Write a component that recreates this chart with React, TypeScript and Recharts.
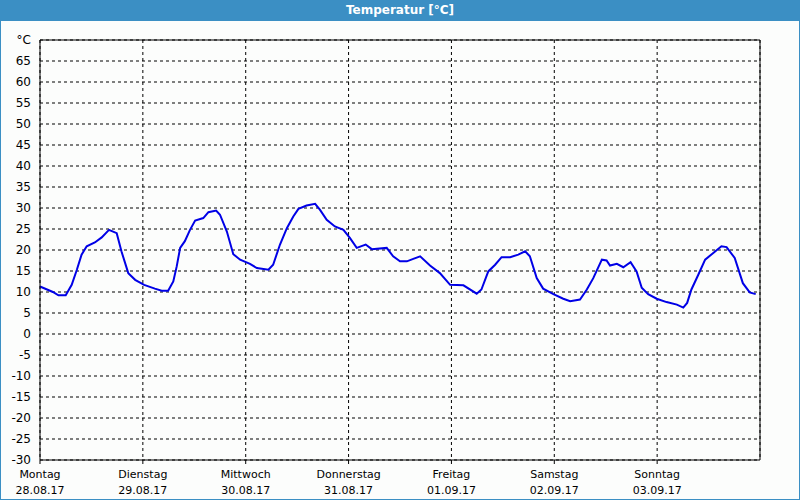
import { LineChart, Line, XAxis, YAxis, CartesianGrid, ReferenceLine } from 'recharts';

// hours since Monday 00:00
const hours = [
  0, 3, 4.3, 6, 7.4, 8.6, 9.7, 10.9, 12.8, 14.4, 16.1, 17.9, 19, 20.6, 22.2,
  24.3, 26.8, 28.4, 29.9, 31.1, 31.9, 32.7, 33.8, 35, 36.2, 38.1, 39.3, 41.1,
  42, 43.6, 45.1, 46.7, 49, 50.6, 53.3, 54.4, 56, 57.6, 59.1, 60.3, 62.2, 64.2,
  65.3, 66.9, 68.8, 70.8, 72.3, 73.9, 76, 77.4, 80.9, 82.4,
  84, 85.6, 87.1, 88.7, 91, 93.3, 95.7, 98.8, 101.9, 103, 104.6, 106.2, 107.7,
  109.7, 111.6, 113.2, 114.3, 115.9, 117.4, 119.8, 122.1, 123.7,
  126, 127.6, 129.1, 131.1, 132.2, 133, 134.6, 136.1, 137.8, 139.2, 140.4,
  141.9, 143.9, 146.2, 148.6, 150.1, 151, 152, 153.6, 155.2, 157.1, 159, 160.2,
  162.1, 164, 165.6, 167,
];

const temps = [
  11.3, 10, 9.2, 9.2, 11.7, 15.3, 18.9, 20.9, 21.8, 23, 24.8, 24, 19.7, 14.5, 12.9,
  11.7, 10.8, 10.3, 10.3, 12.5, 16.1, 20.5, 22.1, 24.8, 27, 27.6, 29, 29.4,
  28.4, 24.4, 19, 17.7, 16.7, 15.7, 15.3, 16.5, 21.3, 25.2, 28, 29.8, 30.6, 31,
  29.6, 27.2, 25.6, 24.8, 22.9, 20.5, 21.3, 20.2, 20.5, 18.5,
  17.3, 17.3, 17.9, 18.5, 16.3, 14.5, 11.7, 11.6, 9.6, 10.6, 14.9, 16.5, 18.3,
  18.3, 18.9, 19.7, 18.5, 13.3, 10.8, 9.5, 8.4, 7.8,
  8.2, 10.6, 13.3, 17.7, 17.5, 16.3, 16.7, 15.9, 17.1, 14.9, 11,
  9.5, 8.4, 7.6, 7, 6.3, 7.4, 10.6, 14.1, 17.7, 19.3, 20.9, 20.7,
  18.1, 12.1, 9.9, 9.5,
];

const dayNames = ['Montag', 'Dienstag', 'Mittwoch', 'Donnerstag', 'Freitag', 'Samstag', 'Sonntag'];
const dayDates = ['28.08.17', '29.08.17', '30.08.17', '31.08.17', '01.09.17', '02.09.17', '03.09.17'];
const dayTicks = [0, 24, 48, 72, 96, 120, 144];

const yTicks = [-30, -25, -20, -15, -10, -5, 0, 5, 10, 15, 20, 25, 30, 35, 40, 45, 50, 55, 60, 65, 70];

const data = hours.map((h, i) => ({ h, t: temps[i] }));

const FONT = 'Tahoma, "DejaVu Sans", sans-serif';

const DayTick = (props: any) => {
  const { x, y, payload } = props;
  const idx = dayTicks.indexOf(payload.value);
  if (idx < 0) return null;
  return (
    <g>
      <text x={x} y={y + 12} textAnchor="middle" fontSize={11} fill="#000" fontFamily={FONT}>
        {dayNames[idx]}
      </text>
      <text x={x} y={y + 28} textAnchor="middle" fontSize={11} fill="#000" fontFamily={FONT}>
        {dayDates[idx]}
      </text>
    </g>
  );
};

const App = () => {
  return (
    <div
      style={{
        position: 'fixed',
        left: 0,
        top: 0,
        width: 800,
        height: 500,
        boxSizing: 'border-box',
        border: '1px solid #3b8fc4',
        background: '#fcfdfc',
        overflow: 'hidden',
      }}
    >
      <div
        style={{
          position: 'absolute',
          left: -1,
          top: -1,
          width: 800,
          height: 21,
          background: '#3b8fc4',
          color: '#fff',
          fontFamily: FONT,
          fontWeight: 'bold',
          fontSize: 12,
          lineHeight: '21px',
          textAlign: 'center',
        }}
      >
        Temperatur [°C]
      </div>
      <div style={{ position: 'absolute', left: -1, top: 19 }}>
        <LineChart width={800} height={480} data={data} margin={{ top: 20, right: 40, bottom: 0, left: 0 }}>
          <CartesianGrid stroke="#000" strokeDasharray="3 3" vertical horizontal />
          <XAxis
            dataKey="h"
            type="number"
            domain={[0, 168]}
            ticks={dayTicks}
            height={40}
            stroke="#000"
            tickSize={4}
            tick={<DayTick />}
            interval={0}
          />
          <YAxis
            type="number"
            domain={[-30, 70]}
            ticks={yTicks}
            width={40}
            stroke="#000"
            tickLine={false}
            tickMargin={3}
            interval={0}
            tick={{ fontSize: 12, fill: '#000', fontFamily: FONT }}
            tickFormatter={(v: number) => (v === 70 ? '°C' : String(v))}
          />
          <ReferenceLine y={70} stroke="#000" strokeWidth={1} />
          <ReferenceLine x={168} stroke="#000" strokeWidth={1} />
          <Line
            type="linear"
            dataKey="t"
            stroke="#0000e6"
            strokeWidth={2}
            dot={false}
            isAnimationActive={false}
          />
        </LineChart>
      </div>
    </div>
  );
};

export default App;
